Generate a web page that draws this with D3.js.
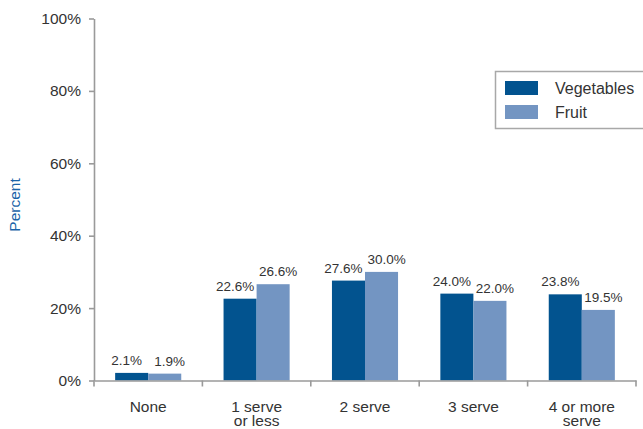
<!DOCTYPE html>
<html>
<head>
<meta charset="utf-8">
<script src="https://cdn.jsdelivr.net/npm/d3@7"></script>
<style>
  body { margin: 0; background: #fff; }
  text { font-family: "Liberation Sans", Arial, sans-serif; }
</style>
</head>
<body>
<div id="chart"></div>
<script>
// data
const categories = [["None"], ["1 serve", "or less"], ["2 serve"], ["3 serve"], ["4 or more", "serve"]];
const seriesNames = ["Vegetables", "Fruit"];
const vegetables = [2.1, 22.6, 27.6, 24.0, 23.8];
const fruit = [1.9, 26.6, 30.0, 22.0, 19.5];
const yTicks = [0, 20, 40, 60, 80, 100];
const colors = ["#02538f", "#7395c2"];

const W = 643, H = 429;
const x0 = 94, x1 = 636, yTop = 18.5, yBot = 380.5;
const labelShift = [-5, 5]; // value labels pushed apart a little

const svg = d3.select("#chart").append("svg")
  .attr("width", W).attr("height", H);

const rows = categories.map((c, i) => ({ key: i, label: c, values: [vegetables[i], fruit[i]] }));

// scales
const x = d3.scaleBand().domain(rows.map(d => d.key)).range([x0, x1]).padding(0);
const xs = d3.scaleBand().domain(seriesNames).range([0, x.bandwidth()]).paddingInner(0).paddingOuter(0.64);
const y = d3.scaleLinear().domain([0, 100]).range([yBot, yTop]);

// y axis
const yAxis = svg.append("g")
  .attr("transform", `translate(${x0},0)`)
  .call(d3.axisLeft(y).tickValues(yTicks).tickFormat(d => d + "%").tickSize(5).tickSizeOuter(0));
yAxis.select(".domain").attr("stroke", "#9a9a9a").attr("stroke-width", 1.6);
yAxis.selectAll(".tick line").attr("stroke", "#9a9a9a").attr("stroke-width", 1.6);
yAxis.selectAll(".tick text").attr("font-size", 15.5).attr("fill", "#333").attr("x", -13)
  .attr("font-family", "Liberation Sans, Arial, sans-serif");

// bars
const groups = svg.append("g").selectAll("g")
  .data(rows).enter().append("g")
  .attr("transform", d => `translate(${x(d.key)},0)`);

groups.selectAll("rect")
  .data(d => d.values.map((v, j) => ({ name: seriesNames[j], v, j })))
  .enter().append("rect")
  .attr("x", d => xs(d.name))
  .attr("y", d => y(d.v))
  .attr("width", xs.bandwidth())
  .attr("height", d => yBot - y(d.v))
  .attr("fill", d => colors[d.j]);

groups.selectAll("text.val")
  .data(d => d.values.map((v, j) => ({ name: seriesNames[j], v, j })))
  .enter().append("text")
  .attr("class", "val")
  .attr("x", d => xs(d.name) + xs.bandwidth() / 2 + labelShift[d.j])
  .attr("y", d => y(d.v) - 8)
  .attr("text-anchor", "middle")
  .attr("font-size", 13.5)
  .attr("fill", "#333")
  .text(d => d.v.toFixed(1) + "%");

// x axis
const xAxis = svg.append("g")
  .attr("transform", `translate(0,${yBot})`)
  .call(d3.axisBottom(x).tickValues([]).tickSizeOuter(0));
xAxis.select(".domain").attr("stroke", "#9a9a9a").attr("stroke-width", 1.6);
xAxis.selectAll(".sep")
  .data(d3.range(rows.length + 1))
  .enter().append("line")
  .attr("class", "sep")
  .attr("x1", i => i < rows.length ? x(i) : x1)
  .attr("x2", i => i < rows.length ? x(i) : x1)
  .attr("y1", 0).attr("y2", 6)
  .attr("stroke", "#9a9a9a").attr("stroke-width", 1.6);

const catLabels = xAxis.selectAll(".cat")
  .data(rows).enter().append("text")
  .attr("class", "cat")
  .attr("x", d => x(d.key) + x.bandwidth() / 2)
  .attr("y", 31)
  .attr("text-anchor", "middle")
  .attr("font-size", 15.5)
  .attr("fill", "#333");
catLabels.selectAll("tspan")
  .data(d => d.label).enter().append("tspan")
  .attr("x", function () { return this.parentNode.getAttribute("x"); })
  .attr("dy", (d, i) => i === 0 ? 0 : 14.5)
  .text(d => d);

// y label
svg.append("text")
  .attr("transform", "translate(20,205) rotate(-90)")
  .attr("text-anchor", "middle")
  .attr("font-size", 15.5)
  .attr("fill", "#1a63a8")
  .text("Percent");

// legend
const legend = svg.append("g");
legend.append("rect")
  .attr("x", 495.5).attr("y", 71.5).attr("width", 150).attr("height", 57)
  .attr("fill", "#fff").attr("stroke", "#a8a8a8").attr("stroke-width", 1.5);
const items = legend.selectAll(".item")
  .data(seriesNames).enter().append("g")
  .attr("transform", (d, i) => `translate(505,${81 + i * 24})`);
items.append("rect").attr("width", 33).attr("height", 14).attr("fill", (d, i) => colors[i]);
items.append("text").attr("x", 50).attr("y", 12.5)
  .attr("font-size", 16).attr("fill", "#333").text(d => d);
</script>
</body>
</html>
